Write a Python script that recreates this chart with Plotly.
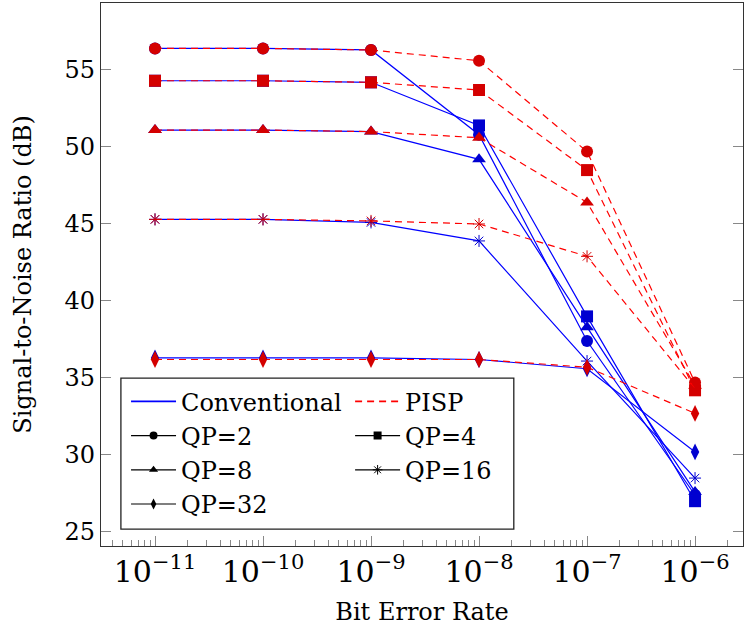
import plotly.graph_objects as go

# ---------------- data ----------------
ber = [1e-11, 1e-10, 1e-9, 1e-8, 1e-7, 1e-6]
qp_labels = ["QP=2", "QP=4", "QP=8", "QP=16", "QP=32"]

conv_qp2 = [56.4, 56.4, 56.3, 50.8, 37.4, 27.4]
conv_qp4 = [54.3, 54.3, 54.2, 51.4, 39.0, 27.0]
conv_qp8 = [51.1, 51.1, 51.0, 49.2, 38.3, 27.6]
conv_qp16 = [45.3, 45.3, 45.1, 43.9, 36.1, 28.5]
conv_qp32 = [36.3, 36.3, 36.3, 36.2, 35.6, 30.2]

pisp_qp2 = [56.4, 56.4, 56.3, 55.6, 49.7, 34.7]
pisp_qp4 = [54.3, 54.3, 54.2, 53.7, 48.5, 34.2]
pisp_qp8 = [51.1, 51.1, 51.0, 50.6, 46.4, 34.5]
pisp_qp16 = [45.3, 45.3, 45.2, 45.0, 42.9, 34.3]
pisp_qp32 = [36.2, 36.2, 36.2, 36.2, 35.7, 32.7]

y_ticks = [25, 30, 35, 40, 45, 50, 55]

# ---------------- styles ----------------
FONT = "DejaVu Serif"
FS = 24
BLUE_LINE = "#0000ff"
BLUE_MARK = "#0000d0"
RED_LINE = "#ff0000"
RED_MARK = "#d40000"
symbols = ["circle", "square", "triangle-up", "asterisk-open", "diamond-tall"]
sizes = [12, 12, 12, 10, 12]

conv = [conv_qp2, conv_qp4, conv_qp8, conv_qp16, conv_qp32]
pisp = [pisp_qp2, pisp_qp4, pisp_qp8, pisp_qp16, pisp_qp32]

fig = go.Figure()


def marker(sym, size, color):
    m = dict(symbol=sym, size=size, color=color)
    if sym.endswith("-open"):
        m["line"] = dict(color=color, width=1.0)
    else:
        m["line"] = dict(width=0)
    return m


for vals, sym, sz in zip(conv, symbols, sizes):
    fig.add_trace(go.Scatter(
        x=ber, y=vals, mode="lines+markers", showlegend=False,
        line=dict(color=BLUE_LINE, width=1.2),
        marker=marker(sym, sz, BLUE_MARK)))

for vals, sym, sz in zip(pisp, symbols, sizes):
    fig.add_trace(go.Scatter(
        x=ber, y=vals, mode="lines+markers", showlegend=False,
        line=dict(color=RED_LINE, width=1.2, dash="7px,5px"),
        marker=marker(sym, sz, RED_MARK)))

# ---------------- legend entries (two columns via two legends) ----------------
fig.add_trace(go.Scatter(x=[None], y=[None], mode="lines", name="Conventional",
                         line=dict(color=BLUE_LINE, width=1.6), legend="legend"))
fig.add_trace(go.Scatter(x=[None], y=[None], mode="lines", name="PISP",
                         line=dict(color=RED_LINE, width=1.6, dash="7px,5px"), legend="legend2"))
for i, (lab, sym) in enumerate(zip(qp_labels, symbols)):
    fig.add_trace(go.Scatter(
        x=[None], y=[None], mode="lines+markers", name=lab,
        legend="legend" if i % 2 == 0 else "legend2",
        line=dict(color="black", width=1.2),
        marker=marker(sym, 8, "black")))

legend_common = dict(
    font=dict(family=FONT, size=FS, color="black"),
    bgcolor="rgba(0,0,0,0)", borderwidth=0, itemwidth=45,
    xanchor="left", yanchor="top", traceorder="normal",
    tracegroupgap=0, itemclick=False,
)

fig.update_layout(
    width=744, height=631,
    margin=dict(l=101, r=1, t=3, b=85),
    paper_bgcolor="white", plot_bgcolor="white",
    font=dict(family=FONT, size=FS, color="black"),
    legend=dict(x=0.039, y=0.307, **legend_common),
    legend2=dict(x=0.388, y=0.307, **legend_common),
    shapes=[dict(type="rect", xref="paper", yref="paper",
                 x0=0.031, x1=0.643, y0=0.031, y1=0.309,
                 line=dict(color="#222", width=1.3), fillcolor="white",
                 layer="above")],
)

fig.update_xaxes(
    type="log", range=[-11.5, -5.556], dtick=1, exponentformat="power",
    showgrid=False, zeroline=False,
    showline=True, linecolor="#333", linewidth=1.3, mirror=True,
    ticks="inside", ticklen=10, tickcolor="#888", tickwidth=1,
    minor=dict(ticks="inside", ticklen=6, tickcolor="#888", tickwidth=1, showgrid=False),
    tickfont=dict(family=FONT, size=FS),
    title=dict(text="Bit Error Rate", font=dict(family=FONT, size=FS), standoff=15),
)
fig.update_yaxes(
    range=[24.09, 59.35], tickvals=y_ticks,
    showgrid=False, zeroline=False,
    showline=True, linecolor="#333", linewidth=1.3, mirror="ticks",
    ticks="inside", ticklen=10, tickcolor="#888", tickwidth=1,
    tickfont=dict(family=FONT, size=FS),
    title=dict(text="Signal-to-Noise Ratio (dB)", font=dict(family=FONT, size=FS), standoff=26),
)

fig.write_html("out.html")
